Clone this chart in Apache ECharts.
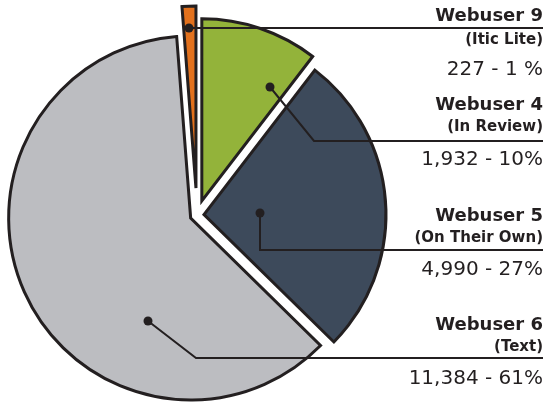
<!DOCTYPE html>
<html>
<head>
<meta charset="utf-8">
<script src="https://cdn.jsdelivr.net/npm/echarts@6/dist/echarts.min.js"></script>
<style>
  html, body { margin: 0; padding: 0; background: #ffffff; }
  #chart { width: 558px; height: 402px; }
</style>
</head>
<body>
<div id="chart"></div>
<script>
// ---- data ----
const names = ['Webuser 4', 'Webuser 5', 'Webuser 6', 'Webuser 9'];
const subtitles = ['(In Review)', '(On Their Own)', '(Text)', '(Itic Lite)'];
const values = [1932, 4990, 11384, 227];

// ---- style / layout (not data) ----
const colors = ['#93b33a', '#3d4a5b', '#bcbdc1', '#e2711d'];
const ink = '#231f20';
const pieCenter = [197, 215];
const pieRadius = 182;
const explode = [15, 7, 7, 27];
const seriesZ = [4, 2, 2, 5];
const labelRight = 543;
const labelTop = [94.5, 205, 314, 5];
const leaderPaths = [
  [[270, 87], [314, 141], [543, 141]],
  [[260, 213], [260, 250], [543, 250]],
  [[148, 321], [196, 358], [543, 358]],
  [[189, 28], [543, 28]]
];
const lineHeights = [
  [22, 22, 42],
  [22, 22, 42],
  [22, 22, 42],
  [22, 26, 34]
];

const total = values.reduce((a, b) => a + b, 0);
let acc = 0;
const mids = values.map(v => { const m = (acc + v / 2) / total * 360; acc += v; return m; });
const centers = mids.map((m, i) => {
  const a = m * Math.PI / 180;
  return [pieCenter[0] + explode[i] * Math.sin(a), pieCenter[1] - explode[i] * Math.cos(a)];
});

function valueText(v) {
  const pct = Math.round(v / total * 100);
  return v.toLocaleString('en-US') + ' - ' + pct + (pct < 10 ? ' ' : '') + '%';
}

const chart = echarts.init(document.getElementById('chart'), null, { renderer: 'canvas' });

const series = values.map((_, i) => ({
  type: 'pie',
  center: centers[i],
  radius: [0, pieRadius],
  startAngle: 90,
  clockwise: true,
  silent: true,
  animation: false,
  avoidLabelOverlap: false,
  z: seriesZ[i],
  emphasis: { disabled: true },
  labelLine: { show: false },
  data: values.map((v, j) => ({
    name: names[j],
    value: v,
    itemStyle: j === i
      ? { color: colors[j], borderColor: ink, borderWidth: 3, borderJoin: 'miter' }
      : { color: 'rgba(0,0,0,0)', borderWidth: 0 },
    label: j === i ? {
      show: true,
      formatter: '{t|' + names[j] + '}\n{s|' + subtitles[j] + '}\n{v|' + valueText(v) + '}',
      rich: {
        t: { fontFamily: 'DejaVu Sans', fontWeight: 'bold', fontSize: 18, color: ink, lineHeight: lineHeights[j][0], align: 'right' },
        s: { fontFamily: 'DejaVu Sans', fontWeight: 'bold', fontSize: 15, color: ink, lineHeight: lineHeights[j][1], align: 'right' },
        v: { fontFamily: 'DejaVu Sans', fontWeight: 'normal', fontSize: 20, color: ink, lineHeight: lineHeights[j][2], align: 'right' }
      }
    } : { show: false },
    labelLine: { show: false }
  })),
  labelLayout: (p) => ({
    x: labelRight,
    y: labelTop[p.dataIndex],
    align: 'right',
    verticalAlign: 'top'
  })
}));

const leaders = [];
leaderPaths.forEach(path => {
  leaders.push({
    type: 'polyline',
    shape: { points: path },
    style: { stroke: ink, lineWidth: 2, fill: null },
    z: 99,
    silent: true
  });
  leaders.push({
    type: 'circle',
    shape: { cx: path[0][0], cy: path[0][1], r: 4.5 },
    style: { fill: ink },
    z: 100,
    silent: true
  });
});

chart.setOption({
  backgroundColor: '#ffffff',
  animation: false,
  series: series,
  graphic: leaders
});
</script>
</body>
</html>
